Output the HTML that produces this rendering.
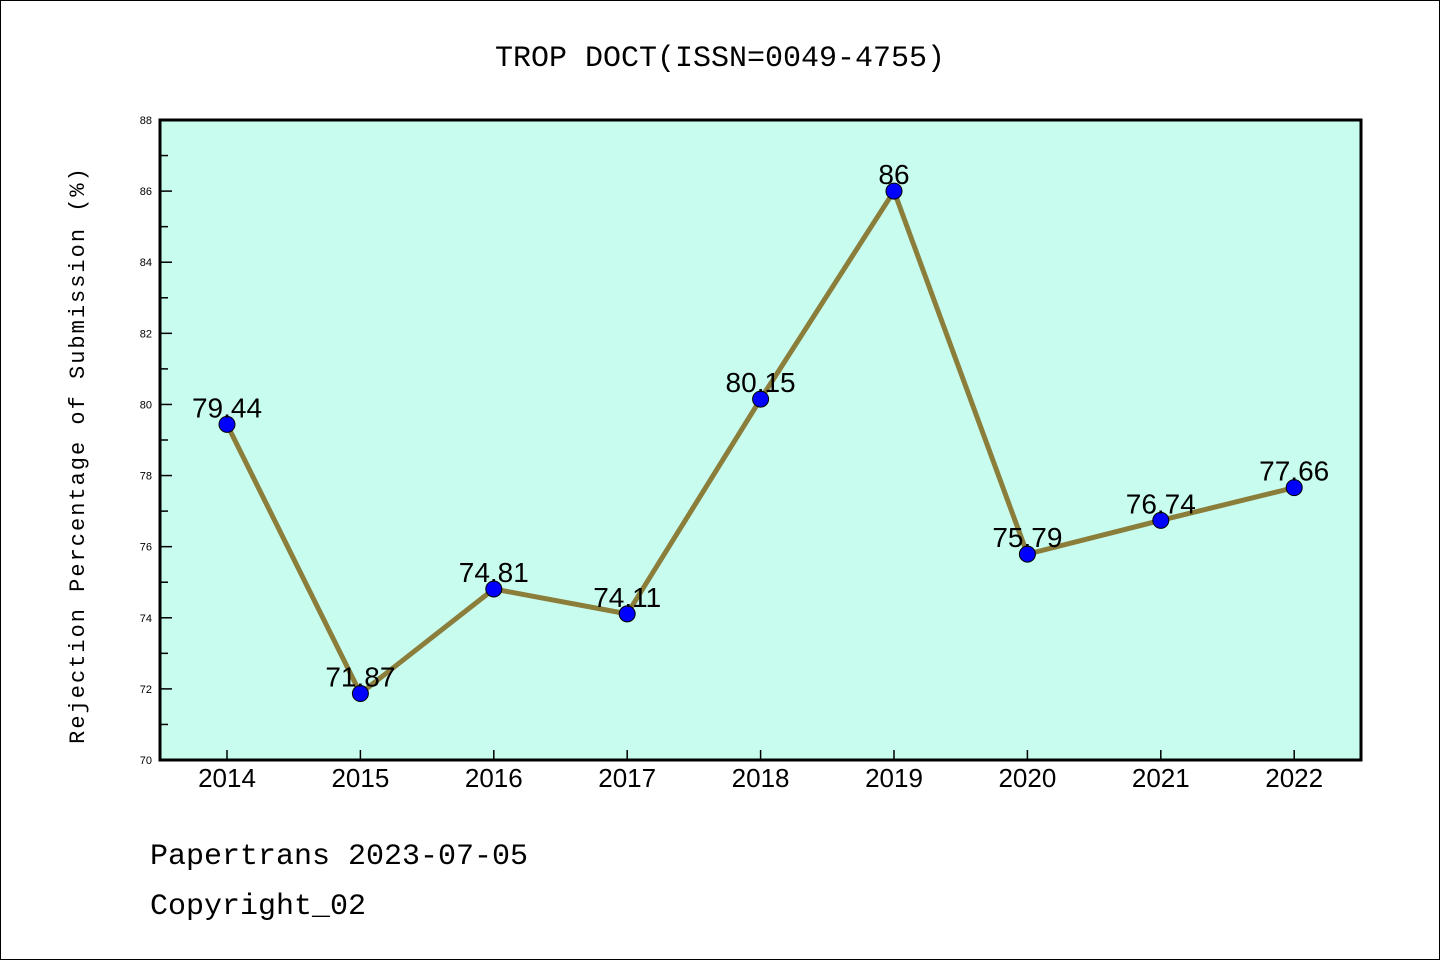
<!DOCTYPE html>
<html><head><meta charset="utf-8"><style>
body{margin:0;background:#fff}
svg{display:block;font-family:"Liberation Mono","DejaVu Sans Mono",monospace}
</style></head><body>
<svg id="c" width="1440" height="960" viewBox="0 0 1440 960">
<rect x="0.5" y="0.5" width="1439" height="959" fill="#fff" stroke="#000"/>
<text x="720" y="66" text-anchor="middle" font-size="30">TROP DOCT(ISSN=0049-4755)</text>
<rect x="160" y="120" width="1201" height="640" fill="#c8fcef"/>
<g id="axes"></g>
<g id="marks"></g>
<rect x="160" y="120" width="1201" height="640" fill="none" stroke="#000" stroke-width="3"/>
<text transform="translate(84,455) rotate(-90)" text-anchor="middle" font-size="22" letter-spacing="2">Rejection Percentage of Submission (%)</text>
<text x="150" y="864" font-size="30">Papertrans 2023-07-05</text>
<text x="150" y="914" font-size="30">Copyright_02</text>
</svg>
<script>
const years=["2014","2015","2016","2017","2018","2019","2020","2021","2022"];
const values=[79.44,71.87,74.81,74.11,80.15,86,75.79,76.74,77.66];
const labels=["79.44","71.87","74.81","74.11","80.15","86","75.79","76.74","77.66"];
const yTicks=[70,72,74,76,78,80,82,84,86,88];
const NS="http://www.w3.org/2000/svg";
const x0=227,dx=133.4,yTop=120,yBot=760,yMin=70,yMax=88;
const xs=i=>x0+i*dx;
const ys=v=>yBot-(v-yMin)/(yMax-yMin)*(yBot-yTop);
function mk(t,a,p){const e=document.createElementNS(NS,t);for(const k in a)e.setAttribute(k,a[k]);p.appendChild(e);return e;}
const ax=document.getElementById('axes'),mg=document.getElementById('marks');
yTicks.forEach((v,i)=>{
 const l=mk('line',{x1:160,x2:172,y1:ys(v),y2:ys(v),stroke:'#000','stroke-width':1.5},ax);
 
 
 const t=mk('text',{x:152,y:ys(v)+4,'text-anchor':'end','font-size':11,'font-family':'Liberation Sans, sans-serif'},ax);
 t.textContent=v;
 
 
 if(i<yTicks.length-1){
  const m=mk('line',{x1:160,x2:168,y1:ys(v+1),y2:ys(v+1),stroke:'#000','stroke-width':1.5},ax);
  
  
 }
});
years.forEach((y,i)=>{
 const l=mk('line',{x1:xs(i),x2:xs(i),y1:760,y2:750,stroke:'#000','stroke-width':1.5},ax);
 
 
 const t=mk('text',{x:xs(i),y:787,'text-anchor':'middle','font-size':26,'font-family':'Liberation Sans, sans-serif'},ax);
 t.textContent=y;
 
 
});
const pl=mk('polyline',{points:values.map((v,i)=>xs(i)+','+ys(v)).join(' '),fill:'none',stroke:'#8b7d3a','stroke-width':5,'stroke-linejoin':'round'},mg);


values.forEach((v,i)=>{
 const c=mk('circle',{cx:xs(i),cy:ys(v),r:8,fill:'#0000ff',stroke:'#000','stroke-width':1},mg);
 
 
 const t=mk('text',{x:xs(i),y:ys(v)-7,'text-anchor':'middle','font-size':28,'font-family':'Liberation Sans, sans-serif'},mg);
 t.textContent=labels[i];
 
 
});
</script>
</body></html>
